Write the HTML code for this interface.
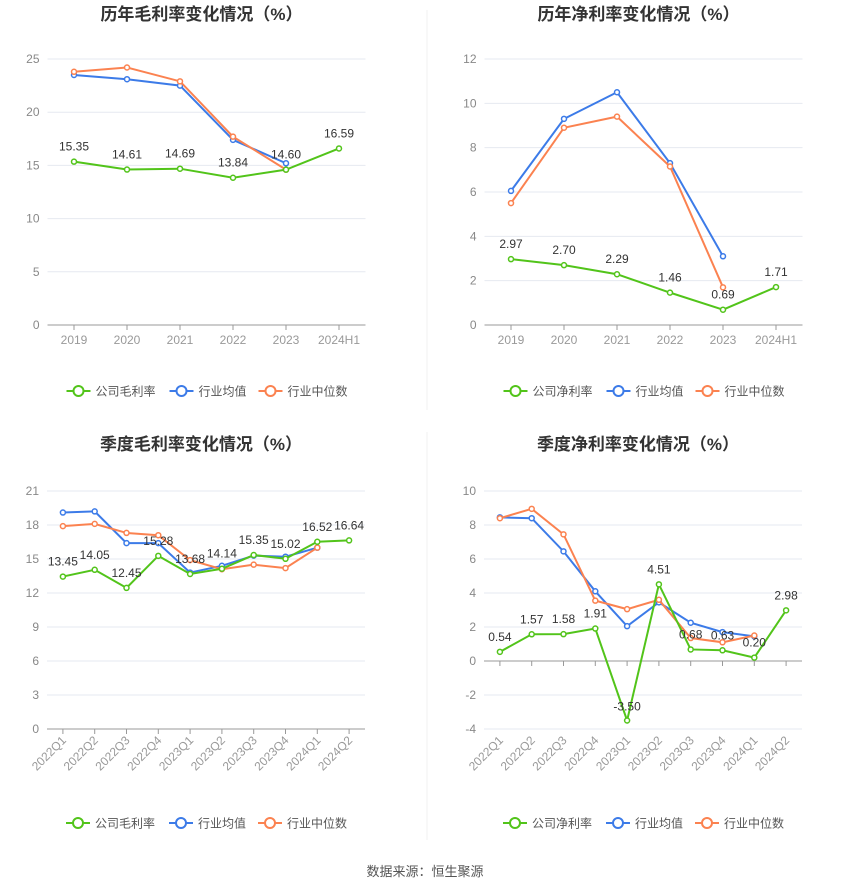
<!DOCTYPE html>
<html><head><meta charset="utf-8"><style>
body{margin:0;background:#fff;font-family:"Liberation Sans","Noto Sans CJK SC",sans-serif}
svg{display:block}
</style></head><body>
<svg id="s" width="850" height="891" font-family="Liberation Sans, Noto Sans CJK SC, sans-serif">
<line x1="427" y1="10" x2="427" y2="410" stroke="#f0f0f0"/>
<line x1="427" y1="432" x2="427" y2="840" stroke="#f0f0f0"/>
<text x="425" y="876" text-anchor="middle" font-size="13" fill="#555">数据来源：恒生聚源</text>
</svg>
<script>
const cats1=["2019","2020","2021","2022","2023","2024H1"];
const gm1Co=[15.35,14.61,14.69,13.84,14.60,16.59];
const gm1Avg=[23.5,23.1,22.5,17.4,15.2];
const gm1Med=[23.8,24.2,22.9,17.7,14.6];
const gmTicks=[0,5,10,15,20,25];
const nm1Co=[2.97,2.70,2.29,1.46,0.69,1.71];
const nm1Avg=[6.05,9.3,10.5,7.3,3.1];
const nm1Med=[5.5,8.9,9.4,7.15,1.7];
const nmTicks=[0,2,4,6,8,10,12];
const cats2=["2022Q1","2022Q2","2022Q3","2022Q4","2023Q1","2023Q2","2023Q3","2023Q4","2024Q1","2024Q2"];
const gm2Co=[13.45,14.05,12.45,15.28,13.68,14.14,15.35,15.02,16.52,16.64];
const gm2Avg=[19.1,19.2,16.4,16.4,13.8,14.4,15.3,15.2,16.0];
const gm2Med=[17.9,18.1,17.3,17.1,14.9,14.1,14.5,14.2,16.0];
const gm2Ticks=[0,3,6,9,12,15,18,21];
const nm2Co=[0.54,1.57,1.58,1.91,-3.50,4.51,0.68,0.63,0.20,2.98];
const nm2Avg=[8.45,8.4,6.45,4.1,2.05,3.45,2.25,1.7,1.45];
const nm2Med=[8.4,8.95,7.45,3.55,3.05,3.6,1.35,1.1,1.5];
const nm2Ticks=[-4,-2,0,2,4,6,8,10];

const svg=document.getElementById('s');const NS="http://www.w3.org/2000/svg";
function mk(t,a,p){const e=document.createElementNS(NS,t);for(const k in a)e.setAttribute(k,a[k]);(p||svg).appendChild(e);return e;}
const G="#52c41a",B="#3c7be8",O="#fb8250";
function chart(o){
 const g=mk('g',{});
 
 
 const tmin=o.ticks[0],tmax=o.ticks[o.ticks.length-1];
 const y=v=>o.y0-(v-tmin)/(tmax-tmin)*(o.y0-o.y1);
 const bw=(o.r-o.l)/o.cats.length;
 const x=i=>o.l+bw*(i+0.5);
 const t=mk('text',{x:(o.l+o.r)/2-5,y:o.ty,'text-anchor':'middle','font-size':17,'font-weight':'bold',fill:'#333'},g);t.textContent=o.title;
 
 
 o.ticks.forEach(v=>{
  const l=mk('line',{x1:o.l,x2:o.r,y1:y(v),y2:y(v),stroke:v===0?'#999':'#e6e9f0'},g);
  
  
  const tx=mk('text',{x:o.l-8,y:y(v)+4,'text-anchor':'end','font-size':12,fill:'#888'},g);tx.textContent=v;
  
  
 });
 const yb=y(0);
 o.cats.forEach((c,i)=>{
  mk('line',{x1:x(i),x2:x(i),y1:yb,y2:yb+5,stroke:'#999'},g);
  let tx;
  if(o.rot){tx=mk('text',{x:x(i)+4,y:o.y0+12,'text-anchor':'end','font-size':12,fill:'#999',transform:`rotate(-45 ${x(i)+4} ${o.y0+12})`},g);}
  else tx=mk('text',{x:x(i),y:o.y0+19,'text-anchor':'middle','font-size':12,fill:'#999'},g);
  tx.textContent=c;
  
  
 });
 [[o.avg,B,'industry-average-line'],[o.med,O,'industry-median-line'],[o.co,G,'company-line']].forEach(([d,c,n])=>{
  const p=mk('polyline',{points:d.map((v,i)=>x(i)+','+y(v)).join(' '),fill:'none',stroke:c,'stroke-width':2},g);
  
  
  d.forEach((v,i)=>{const m=mk('circle',{cx:x(i),cy:y(v),r:2.5,fill:'#fff',stroke:c,'stroke-width':1.5},g);
   
   });
 });
 o.co.forEach((v,i)=>{
  const ly=v<0?y(v)-10:y(v)-11;
  const tx=mk('text',{x:x(i),y:ly,'text-anchor':'middle','font-size':12,fill:'#333'},g);tx.textContent=v.toFixed(2);
  
  
 });
 const lx=(o.l+o.r)/2-140;
 [[o.coName,G,0],['行业均值',B,103],['行业中位数',O,192]].forEach(([n,c,dx])=>{
  const lg=mk('g',{},g);
  
  
  mk('line',{x1:lx+dx,x2:lx+dx+24,y1:o.ly,y2:o.ly,stroke:c,'stroke-width':2},lg);
  mk('circle',{cx:lx+dx+12,cy:o.ly,r:5,fill:'#fff',stroke:c,'stroke-width':2},lg);
  const tx=mk('text',{x:lx+dx+29,y:o.ly+4.5,'font-size':12,fill:'#555'},lg);tx.textContent=n;
 });
}
chart({name:'annual-gross-margin-chart',title:'历年毛利率变化情况（%）',cats:cats1,co:gm1Co,avg:gm1Avg,med:gm1Med,ticks:gmTicks,l:47.5,r:365.5,y0:325,y1:59,ty:20,ly:391,coName:'公司毛利率'});
chart({name:'annual-net-margin-chart',title:'历年净利率变化情况（%）',cats:cats1,co:nm1Co,avg:nm1Avg,med:nm1Med,ticks:nmTicks,l:484.5,r:802.5,y0:325,y1:59,ty:20,ly:391,coName:'公司净利率'});
chart({name:'quarterly-gross-margin-chart',title:'季度毛利率变化情况（%）',cats:cats2,co:gm2Co,avg:gm2Avg,med:gm2Med,ticks:gm2Ticks,l:47,r:365,y0:729,y1:491,ty:450,ly:823,rot:true,coName:'公司毛利率'});
chart({name:'quarterly-net-margin-chart',title:'季度净利率变化情况（%）',cats:cats2,co:nm2Co,avg:nm2Avg,med:nm2Med,ticks:nm2Ticks,l:484,r:802,y0:729,y1:491,ty:450,ly:823,rot:true,coName:'公司净利率'});
</script>
</body></html>
